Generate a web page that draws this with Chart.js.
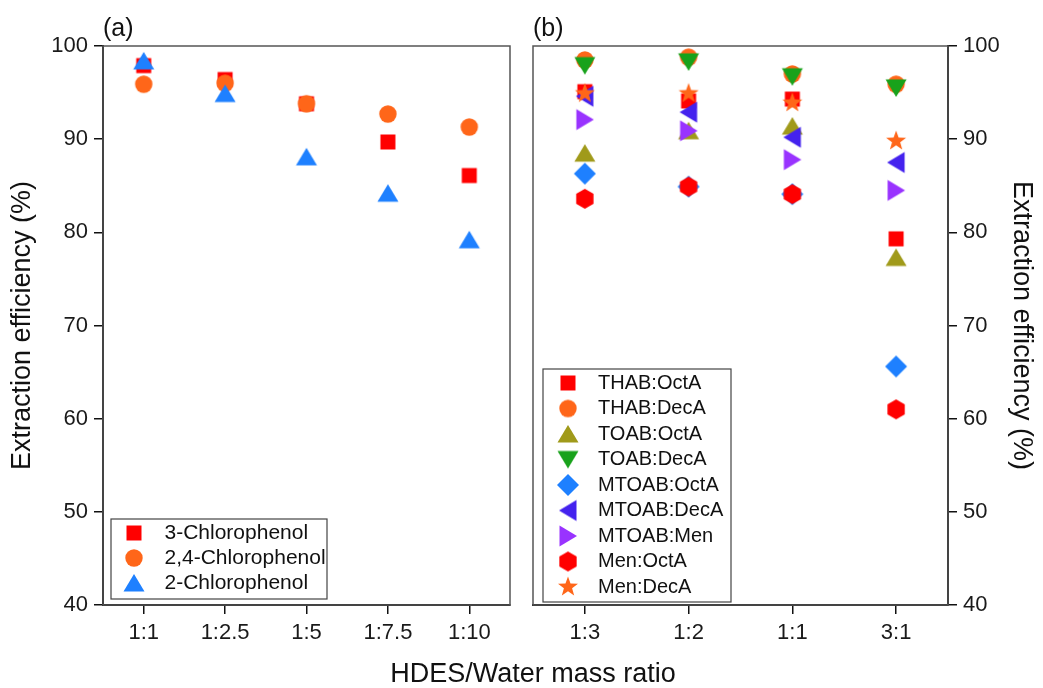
<!DOCTYPE html>
<html>
<head>
<meta charset="utf-8">
<script src="https://cdn.jsdelivr.net/npm/chart.js@4.4.1/dist/chart.umd.min.js"></script>
<style>
  html, body { margin: 0; padding: 0; background: #fff; }
  #wrap { position: relative; width: 1043px; height: 688px; overflow: hidden; }
  #chartA { position: absolute; left: 0; top: 0; }
  #chartB { position: absolute; left: 521px; top: 0; }
  #xtitle { position: absolute; left: 0; top: 658px; width: 1066px; text-align: center;
            font: 27px 'Liberation Sans', Arial, sans-serif; line-height: 30px; color: #111; }
</style>
</head>
<body>
<div id="wrap">
  <canvas id="chartA" width="521" height="688"></canvas>
  <canvas id="chartB" width="522" height="688"></canvas>
  <div id="xtitle">HDES/Water mass ratio</div>
</div>
<script>
// panel (a) - chlorophenols
const ratiosA = ['1:1', '1:2.5', '1:5', '1:7.5', '1:10']
const cp3 = [97.9, 96.4, 93.8, 89.7, 86.1]
const cp24 = [95.9, 96.0, 93.8, 92.7, 91.3]
const cp2 = [98.4, 94.9, 88.1, 84.2, 79.2]

// panel (b) - different HDES
const ratiosB = ['1:3', '1:2', '1:1', '3:1']
const thabOct = [95.1, 94.1, 94.3, 79.3]
const thabDec = [98.5, 98.8, 97.0, 95.9]
const toabOct = [88.5, 90.9, 91.4, 77.3]
const toabDec = [97.9, 98.3, 96.7, 95.5]
const mtoabOct = [86.3, 84.9, 84.1, 65.6]
const mtoabDec = [94.6, 92.9, 90.2, 87.5]
const mtoabMen = [92.1, 90.9, 87.8, 84.5]
const menOct = [83.6, 84.9, 84.1, 61.0]
const menDec = [94.9, 94.9, 93.9, 89.8]

const yTicks = [40, 50, 60, 70, 80, 90, 100]

const FONT = "'Liberation Sans', Arial, sans-serif"

// small canvases used as point styles (Origin-like filled symbols)
function marker(shape, color) {
    let c = document.createElement('canvas')
    c.width = 24
    c.height = 24
    let g = c.getContext('2d')
    g.translate(12, 12)
    g.fillStyle = color
    g.beginPath()
    if (shape === 'square') {
        g.rect(-7.5, -7.5, 15, 15)
    } else if (shape === 'circle') {
        g.arc(0, 0, 8.7, 0, Math.PI * 2)
    } else if (shape === 'up') {
        g.moveTo(0, -9); g.lineTo(10.5, 8.5); g.lineTo(-10.5, 8.5)
    } else if (shape === 'down') {
        g.moveTo(0, 9); g.lineTo(10.5, -8.5); g.lineTo(-10.5, -8.5)
    } else if (shape === 'left') {
        g.moveTo(-9, 0); g.lineTo(8.5, -10.5); g.lineTo(8.5, 10.5)
    } else if (shape === 'right') {
        g.moveTo(9, 0); g.lineTo(-8.5, -10.5); g.lineTo(-8.5, 10.5)
    } else if (shape === 'diamond') {
        g.moveTo(0, -11); g.lineTo(11, 0); g.lineTo(0, 11); g.lineTo(-11, 0)
    } else if (shape === 'hexagon') {
        for (let k = 0; k < 6; k++) {
            let a = -Math.PI / 2 + k * Math.PI / 3
            g.lineTo(Math.cos(a) * 10, Math.sin(a) * 10)
        }
    } else if (shape === 'star') {
        for (let k = 0; k < 10; k++) {
            let a = -Math.PI / 2 + k * Math.PI / 5
            let r = k % 2 === 0 ? 10.5 : 4.3
            g.lineTo(Math.cos(a) * r, Math.sin(a) * r)
        }
    }
    g.closePath()
    g.fill()
    return c
}

const RED = '#ff0000'
const ORANGE = '#ff6619'
const BLUE = '#1e80ff'
const OLIVE = '#a09a1a'
const GREEN = '#18a21b'
const ROYAL = '#4422ee'
const VIOLET = '#9933ff'

// frame round the plot area, moves the legend inside it and boxes it
const framePlugin = {
    id: 'frame',
    afterLayout(chart) {
        let o = chart.options.plugins.frame
        let lg = chart.legend
        lg.left = o.legendX
        lg.top = o.legendY
        lg.right = lg.left + lg.width + 10
        lg.bottom = lg.top + lg.height + 10
    },
    beforeDatasetsDraw(chart) {
        let o = chart.options.plugins.frame
        let a = chart.chartArea
        let ctx = chart.ctx
        ctx.save()
        ctx.strokeStyle = '#555'
        ctx.lineWidth = 1.5
        ctx.strokeRect(a.left, a.top, a.right - a.left, a.bottom - a.top)
        ctx.strokeStyle = '#444'
        ctx.lineWidth = 1.2
        ctx.strokeRect(o.box[0], o.box[1], o.box[2], o.box[3])
        ctx.restore()
    }
}

function makeSets(names, values, shapes, colors) {
    let n = names.length
    return names.map(function (name, i) {
        return {
            label: name,
            data: values[i],
            pointStyle: marker(shapes[i], colors[i]),
            pointRadius: 10,
            backgroundColor: colors[i],
            borderColor: colors[i],
            showLine: false,
            order: n - i   // later series drawn on top, like Origin
        }
    })
}

function yAxis(position, width, titlePad) {
    return {
        position: position,
        min: 40,
        max: 100,
        afterFit: function (s) { s.width = width },
        afterBuildTicks: function (s) { s.ticks = yTicks.map(v => ({ value: v })) },
        ticks: { font: { family: FONT, size: 22 }, color: '#1a1a1a', padding: 6 },
        grid: { drawOnChartArea: false, tickLength: 9, color: '#111', lineWidth: 1.5 },
        border: { color: '#111', width: 2 },
        title: {
            display: true,
            text: 'Extraction efficiency (%)',
            font: { family: FONT, size: 27 },
            color: '#111',
            padding: { top: titlePad, bottom: 0 }
        }
    }
}

function xAxis() {
    return {
        type: 'category',
        offset: true,
        afterFit: function (s) { s.height = 83 },
        ticks: { font: { family: FONT, size: 22 }, color: '#1a1a1a', padding: 6 },
        grid: { drawOnChartArea: false, offset: false, tickLength: 9, color: '#111', lineWidth: 1.5 },
        border: { color: '#111', width: 2 }
    }
}

function panelOptions(label, yPos, yWidth, titlePad, pad, legendFont, legendPad, legendX, legendY, box) {
    return {
        responsive: false,
        animation: false,
        layout: { padding: pad },
        scales: { x: xAxis(), y: yAxis(yPos, yWidth, titlePad) },
        plugins: {
            tooltip: { enabled: false },
            title: {
                display: true,
                text: label,
                align: 'start',
                fullSize: false,
                font: { family: FONT, size: 25, weight: 'normal' },
                color: '#111',
                padding: { top: 14, bottom: 2 }
            },
            legend: {
                position: 'chartArea',
                align: 'start',
                labels: {
                    usePointStyle: true,
                    pointStyleWidth: 40,
                    font: { family: FONT, size: legendFont },
                    color: '#111',
                    padding: legendPad,
                    sort: (a, b) => a.datasetIndex - b.datasetIndex
                }
            },
            frame: { legendX: legendX, legendY: legendY, box: box }
        }
    }
}

new Chart(document.getElementById('chartA'), {
    type: 'line',
    data: {
        labels: ratiosA,
        datasets: makeSets(
            ['3-Chlorophenol', '2,4-Chlorophenol', '2-Chlorophenol'],
            [cp3, cp24, cp2],
            ['square', 'circle', 'up'],
            [RED, ORANGE, BLUE])
    },
    options: panelOptions('(a)', 'left', 103, 6, { left: 0, right: 7, top: 0, bottom: 0 },
        21, 4, 110, 518.5, [111, 519, 216, 80]),
    plugins: [framePlugin]
})

new Chart(document.getElementById('chartB'), {
    type: 'line',
    data: {
        labels: ratiosB,
        datasets: makeSets(
            ['THAB:OctA', 'THAB:DecA', 'TOAB:OctA', 'TOAB:DecA', 'MTOAB:OctA',
             'MTOAB:DecA', 'MTOAB:Men', 'Men:OctA', 'Men:DecA'],
            [thabOct, thabDec, toabOct, toabDec, mtoabOct, mtoabDec, mtoabMen, menOct, menDec],
            ['square', 'circle', 'up', 'down', 'diamond', 'left', 'right', 'hexagon', 'star'],
            [RED, ORANGE, OLIVE, GREEN, BLUE, ROYAL, VIOLET, RED, ORANGE])
    },
    options: panelOptions('(b)', 'right', 95, 5, { left: 12, right: 0, top: 0, bottom: 0 },
        20, 5.5, 21.5, 367.5, [22, 369, 188, 233]),
    plugins: [framePlugin]
})
</script>
</body>
</html>
